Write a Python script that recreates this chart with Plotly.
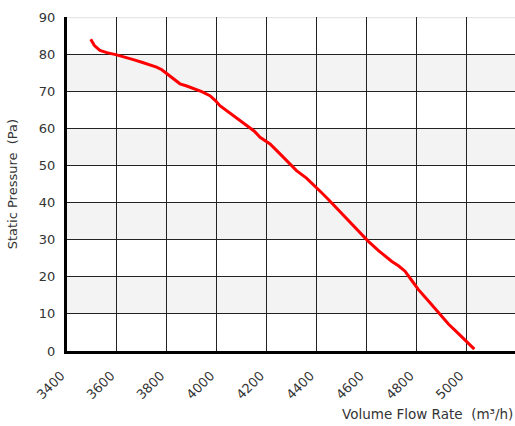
import plotly.graph_objects as go

flow = [3495, 3510, 3532, 3560, 3599, 3630, 3666, 3700, 3730, 3759, 3780, 3800, 3825, 3853,
        3880, 3906, 3940, 3973, 3995, 4013, 4040, 4067, 4095, 4120, 4150, 4174, 4214, 4250,
        4287, 4320, 4360, 4394, 4420, 4447, 4490, 4541, 4575, 4607, 4650, 4701, 4730, 4755,
        4780, 4808, 4850, 4889, 4930, 4960, 4982, 5010, 5033]
pressure = [84.0, 82.3, 81.0, 80.4, 79.8, 79.1, 78.5, 77.8, 77.2, 76.5, 75.8, 74.7, 73.3, 72.0,
            71.4, 70.8, 69.9, 68.8, 67.5, 66.1, 64.8, 63.4, 62.1, 60.9, 59.3, 57.6, 55.8, 53.4,
            50.8, 48.6, 46.6, 44.5, 42.7, 40.9, 37.8, 34.1, 31.8, 29.6, 27.0, 24.2, 22.9, 21.5,
            19.2, 16.6, 13.4, 10.3, 7.2, 5.3, 3.9, 2.2, 0.5]

x_ticks = [3400, 3600, 3800, 4000, 4200, 4400, 4600, 4800, 5000, 5200]
y_ticks = [0, 10, 20, 30, 40, 50, 60, 70, 80, 90]
bands = [(10, 20), (30, 40), (50, 60), (70, 80)]

font = "DejaVu Sans"
fig = go.Figure()
fig.add_trace(go.Scatter(x=flow, y=pressure, mode="lines",
                         line=dict(color="#ff0000", width=3), hoverinfo="skip"))

shapes = []
for lo, hi in bands:
    shapes.append(dict(type="rect", xref="paper", yref="y", x0=0, x1=1, y0=lo, y1=hi,
                       fillcolor="#f3f3f3", line=dict(width=0), layer="below"))
shapes.append(dict(type="line", xref="paper", yref="y", x0=0, x1=1, y0=y_ticks[-1], y1=y_ticks[-1],
                   line=dict(color="#e6e6e6", width=2.5), layer="between"))

fig.update_layout(
    width=515, height=426,
    margin=dict(l=67, r=0, t=17, b=75, autoexpand=False),
    paper_bgcolor="white", plot_bgcolor="white",
    showlegend=False,
    shapes=shapes,
    font=dict(family=font, size=13, color="#333333"),
    annotations=[
        dict(text="Volume Flow Rate  (m³/h)", xref="paper", yref="paper", x=1.0, y=-0.188,
             xanchor="right", yanchor="middle", showarrow=False,
             font=dict(family=font, size=13.5, color="#333333")),
        dict(text="Static Pressure  (Pa)", xref="paper", yref="paper", x=-0.122, y=0.5,
             xanchor="center", yanchor="middle", textangle=-90, showarrow=False,
             font=dict(family=font, size=13, color="#333333")),
    ],
)
fig.update_xaxes(range=[3400, 5196], tickvals=x_ticks, tickangle=-45, automargin=False,
                 showgrid=True, gridcolor="#222222", gridwidth=1.3,
                 ticklabelstandoff=9, ticklabelshift=-6,
                 showline=True, linecolor="black", linewidth=3, zeroline=False,
                 ticks="", tickfont=dict(size=13, color="#333333"))
fig.update_yaxes(range=[0, 90], tickvals=y_ticks, automargin=False,
                 showgrid=True, gridcolor="#222222", gridwidth=1.3, ticklabelstandoff=6,
                 showline=True, linecolor="black", linewidth=3, zeroline=False,
                 ticks="", tickfont=dict(size=13, color="#333333"))

fig.write_html("out.html", config={"displayModeBar": False},
               post_script="document.body.style.margin='0';document.body.style.overflow='hidden';")
